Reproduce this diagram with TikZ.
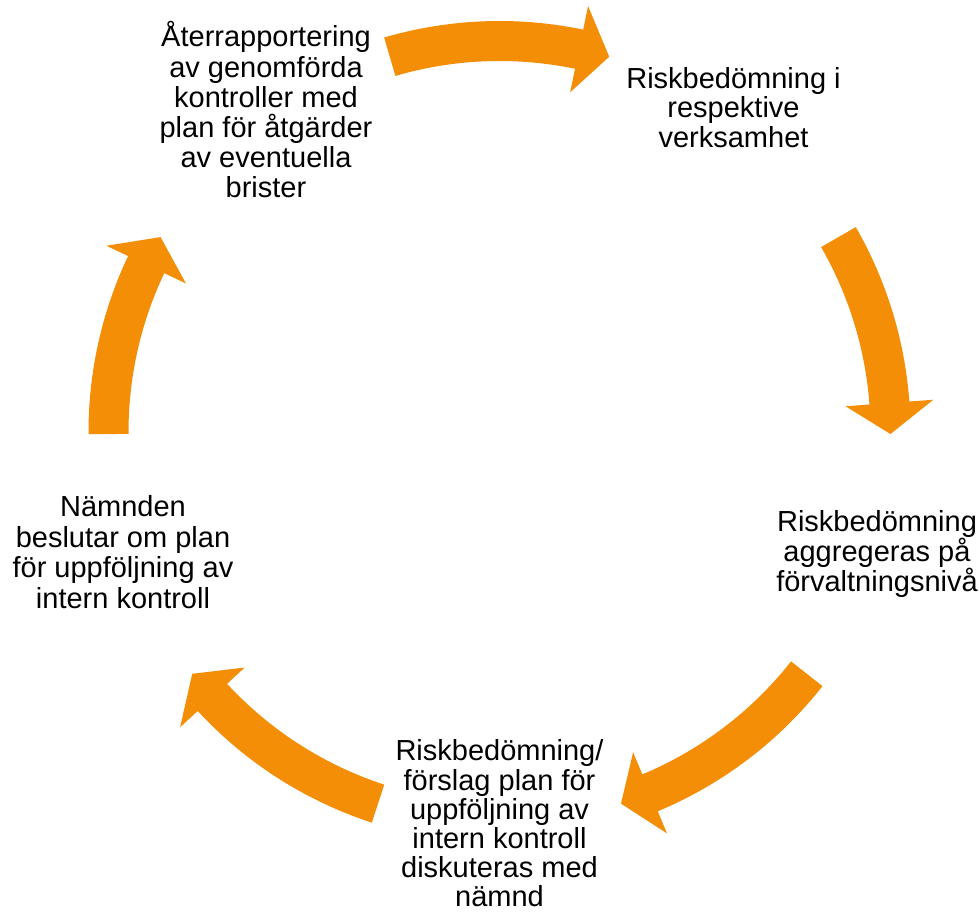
\documentclass[tikz,border=0pt]{standalone}
\usepackage{fontspec}
\setmainfont{Liberation Sans}
\definecolor{arrorange}{RGB}{243,142,6}
\tikzset{
  lbl/.style={align=center, inner sep=0pt, anchor=north, text=black},
  cyc/.style={fill=arrorange, draw=none},
}
\newcommand{\lblfont}[1]{\fontsize{29}{#1}\selectfont}
\newcommand{\strutA}{\rule{0pt}{28pt}}
% tail angle, tip angle (clockwise arrow on a ring of radius 391)
\newcommand{\cyclearrow}[2]{%
  \path[cyc] ({#1}:411) arc[start angle={#1}, end angle={#2+4.55}, radius=411]
    -- ({#2+4.55}:435) -- ({#2}:391) -- ({#2+4.55}:347) -- ({#2+4.55}:371)
    arc[start angle={#2+4.55}, end angle={#1}, radius=371] -- cycle;}
\begin{document}
\begin{tikzpicture}[x=1pt,y=1pt]
\useasboundingbox (0,0) rectangle (980,914);
\begin{scope}[shift={(499.5,482)}]
  \cyclearrow{106.3}{73.7}
  \cyclearrow{29.9}{-0.3}
  \cyclearrow{-38.2}{-71.9}
  \cyclearrow{-108.1}{-141.8}
  \cyclearrow{180.3}{150.1}
\end{scope}
\node[lbl, font=\lblfont{30.2}] (aterr) at (266,895.3) {\strutA Återrapportering\\av genomförda\\kontroller med\\plan för åtgärder\\av eventuella\\brister};
\node[lbl, font=\lblfont{29.5}] (risk) at (733.5,853.7) {\strutA Riskbedömning i\\respektive\\verksamhet};
\node[lbl, font=\lblfont{30}] (aggr) at (877,410.3) {\strutA Riskbedömning\\aggregeras på\\förvaltningsnivå};
\node[lbl, font=\lblfont{29.2}] (disk) at (499.5,181.3) {\strutA Riskbedömning/\\förslag plan för\\uppföljning av\\intern kontroll\\diskuteras med\\nämnd};
\node[lbl, font=\lblfont{30.5}] (namnd) at (123,425.3) {\strutA Nämnden\\beslutar om plan\\för uppföljning av\\intern kontroll};
\end{tikzpicture}
\end{document}
